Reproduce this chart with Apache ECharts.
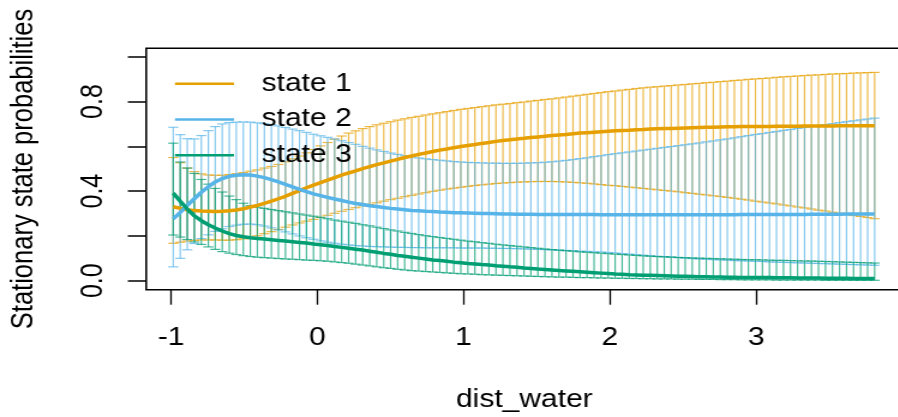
<!DOCTYPE html>
<html><head><meta charset="utf-8">
<script src="https://cdn.jsdelivr.net/npm/echarts@6/dist/echarts.min.js"></script>
<style>
html,body{margin:0;padding:0;background:#fff;overflow:hidden;width:898px;height:417px;}
#chart{width:749px;height:417px;transform:scaleX(1.2);transform-origin:0 0;}
</style></head><body><div id="chart"></div>
<script>
// covariate grid (dist_water)
const xValues = [-0.985,-0.937,-0.889,-0.841,-0.793,-0.745,-0.698,-0.650,-0.602,-0.554,
-0.506,-0.458,-0.410,-0.362,-0.314,-0.266,-0.218,-0.170,-0.122,-0.074,
-0.026,0.022,0.070,0.118,0.166,0.214,0.262,0.310,0.358,0.406,
0.454,0.501,0.549,0.597,0.645,0.693,0.741,0.789,0.837,0.885,
0.933,0.981,1.029,1.077,1.125,1.173,1.221,1.269,1.317,1.365,
1.413,1.460,1.508,1.556,1.604,1.652,1.700,1.748,1.796,1.844,
1.892,1.940,1.988,2.036,2.084,2.132,2.180,2.228,2.276,2.324,
2.372,2.419,2.467,2.515,2.563,2.611,2.659,2.707,2.755,2.803,
2.851,2.899,2.947,2.995,3.043,3.091,3.139,3.187,3.235,3.283,
3.331,3.378,3.426,3.474,3.522,3.570,3.618,3.666,3.714,3.762,3.810];

const state1Mean = [0.330,0.323,0.317,0.313,0.311,0.310,0.309,0.310,0.312,0.316,
0.321,0.329,0.336,0.345,0.355,0.366,0.377,0.390,0.402,0.415,
0.427,0.438,0.449,0.460,0.471,0.481,0.490,0.500,0.509,0.518,
0.526,0.534,0.542,0.550,0.557,0.564,0.570,0.577,0.583,0.588,
0.594,0.599,0.604,0.608,0.613,0.617,0.622,0.626,0.629,0.633,
0.636,0.639,0.642,0.645,0.648,0.651,0.653,0.656,0.659,0.661,
0.663,0.665,0.667,0.669,0.671,0.672,0.674,0.675,0.677,0.678,
0.679,0.680,0.681,0.682,0.683,0.684,0.685,0.685,0.686,0.687,
0.687,0.688,0.688,0.689,0.689,0.689,0.690,0.690,0.690,0.690,
0.691,0.691,0.691,0.691,0.691,0.692,0.692,0.692,0.692,0.692,0.692];
const state1Upper = [0.550,0.527,0.503,0.487,0.477,0.472,0.471,0.471,0.474,0.478,
0.483,0.489,0.495,0.503,0.510,0.519,0.531,0.544,0.557,0.571,
0.586,0.602,0.617,0.632,0.646,0.659,0.669,0.679,0.688,0.696,
0.703,0.710,0.717,0.723,0.729,0.734,0.740,0.745,0.750,0.755,
0.760,0.765,0.769,0.773,0.777,0.781,0.785,0.788,0.791,0.795,
0.798,0.802,0.805,0.809,0.812,0.816,0.820,0.824,0.828,0.832,
0.836,0.840,0.844,0.847,0.851,0.854,0.858,0.861,0.864,0.866,
0.869,0.871,0.874,0.876,0.879,0.881,0.884,0.886,0.889,0.891,
0.894,0.896,0.899,0.901,0.903,0.905,0.908,0.910,0.912,0.914,
0.916,0.918,0.919,0.921,0.923,0.924,0.925,0.927,0.928,0.929,0.930];
const state1Lower = [0.167,0.172,0.177,0.180,0.182,0.182,0.182,0.181,0.181,0.183,
0.187,0.193,0.201,0.210,0.219,0.229,0.239,0.249,0.258,0.266,
0.274,0.283,0.292,0.301,0.310,0.318,0.326,0.334,0.341,0.348,
0.355,0.362,0.368,0.375,0.381,0.387,0.393,0.399,0.404,0.409,
0.413,0.417,0.421,0.425,0.428,0.431,0.434,0.436,0.438,0.440,
0.441,0.442,0.443,0.443,0.443,0.442,0.441,0.439,0.437,0.435,
0.432,0.429,0.426,0.424,0.421,0.418,0.415,0.412,0.409,0.406,
0.403,0.400,0.397,0.393,0.390,0.386,0.383,0.379,0.376,0.372,
0.368,0.364,0.360,0.355,0.351,0.347,0.343,0.338,0.334,0.329,
0.325,0.320,0.315,0.311,0.306,0.301,0.296,0.291,0.287,0.282,0.277];

const state2Mean = [0.276,0.305,0.336,0.366,0.395,0.420,0.441,0.456,0.466,0.471,
0.473,0.472,0.467,0.460,0.451,0.441,0.430,0.419,0.408,0.398,
0.388,0.380,0.372,0.365,0.358,0.351,0.345,0.340,0.335,0.331,
0.327,0.323,0.320,0.317,0.314,0.312,0.310,0.309,0.307,0.306,
0.304,0.303,0.302,0.301,0.300,0.300,0.299,0.298,0.298,0.297,
0.297,0.297,0.296,0.296,0.296,0.296,0.296,0.296,0.296,0.296,
0.296,0.295,0.295,0.295,0.295,0.295,0.295,0.295,0.295,0.295,
0.295,0.295,0.295,0.295,0.295,0.295,0.295,0.295,0.295,0.295,
0.295,0.296,0.296,0.296,0.296,0.296,0.296,0.296,0.296,0.296,
0.296,0.297,0.297,0.297,0.297,0.297,0.298,0.298,0.298,0.298,0.298];
const state2Upper = [0.685,0.652,0.634,0.633,0.648,0.670,0.688,0.700,0.706,0.708,
0.709,0.708,0.705,0.701,0.697,0.691,0.684,0.677,0.670,0.662,
0.654,0.647,0.640,0.633,0.625,0.617,0.609,0.600,0.592,0.584,
0.577,0.570,0.564,0.558,0.553,0.548,0.544,0.541,0.538,0.535,
0.532,0.530,0.528,0.527,0.526,0.525,0.525,0.524,0.524,0.524,
0.525,0.526,0.527,0.529,0.531,0.534,0.537,0.541,0.545,0.549,
0.554,0.558,0.563,0.567,0.571,0.575,0.579,0.583,0.587,0.591,
0.595,0.599,0.603,0.607,0.611,0.615,0.620,0.624,0.629,0.633,
0.638,0.643,0.648,0.653,0.657,0.662,0.666,0.671,0.675,0.680,
0.684,0.689,0.693,0.697,0.701,0.706,0.710,0.714,0.718,0.722,0.726];
const state2Lower = [0.062,0.100,0.138,0.166,0.188,0.205,0.220,0.232,0.242,0.248,
0.252,0.253,0.250,0.244,0.236,0.227,0.218,0.209,0.200,0.192,
0.185,0.178,0.172,0.167,0.163,0.160,0.157,0.155,0.153,0.152,
0.151,0.150,0.149,0.149,0.148,0.148,0.147,0.147,0.147,0.147,
0.147,0.146,0.146,0.146,0.146,0.145,0.145,0.144,0.144,0.143,
0.142,0.141,0.140,0.139,0.138,0.136,0.135,0.134,0.132,0.131,
0.129,0.128,0.126,0.124,0.121,0.119,0.116,0.114,0.111,0.109,
0.107,0.105,0.103,0.101,0.099,0.097,0.096,0.094,0.093,0.092,
0.090,0.089,0.088,0.087,0.086,0.084,0.083,0.082,0.081,0.080,
0.079,0.078,0.077,0.076,0.075,0.074,0.073,0.072,0.071,0.070,0.069];

const state3Mean = [0.391,0.355,0.320,0.290,0.268,0.250,0.235,0.222,0.210,0.202,
0.196,0.192,0.189,0.186,0.183,0.180,0.177,0.174,0.171,0.168,
0.164,0.161,0.157,0.153,0.149,0.145,0.141,0.137,0.132,0.127,
0.122,0.118,0.113,0.109,0.105,0.101,0.097,0.093,0.090,0.087,
0.083,0.080,0.077,0.075,0.072,0.070,0.067,0.065,0.062,0.060,
0.057,0.055,0.052,0.050,0.048,0.046,0.044,0.042,0.040,0.038,
0.036,0.034,0.032,0.030,0.029,0.027,0.026,0.025,0.024,0.023,
0.022,0.021,0.020,0.020,0.019,0.018,0.018,0.017,0.017,0.016,
0.016,0.015,0.015,0.014,0.014,0.014,0.013,0.013,0.013,0.012,
0.012,0.012,0.012,0.011,0.011,0.011,0.011,0.010,0.010,0.010,0.010];
const state3Upper = [0.614,0.530,0.503,0.479,0.452,0.431,0.412,0.396,0.378,0.362,
0.346,0.335,0.328,0.323,0.318,0.313,0.308,0.303,0.298,0.293,
0.288,0.283,0.277,0.271,0.266,0.261,0.256,0.250,0.245,0.239,
0.233,0.227,0.222,0.216,0.211,0.206,0.201,0.197,0.193,0.189,
0.185,0.181,0.177,0.174,0.170,0.167,0.163,0.160,0.157,0.154,
0.151,0.148,0.145,0.142,0.139,0.137,0.134,0.132,0.129,0.127,
0.125,0.123,0.121,0.119,0.117,0.115,0.113,0.111,0.110,0.108,
0.107,0.106,0.104,0.103,0.102,0.101,0.100,0.099,0.098,0.097,
0.096,0.095,0.094,0.094,0.093,0.092,0.091,0.091,0.090,0.089,
0.088,0.088,0.087,0.086,0.085,0.084,0.083,0.082,0.081,0.080,0.079];
const state3Lower = [0.204,0.195,0.184,0.173,0.162,0.151,0.140,0.130,0.123,0.117,
0.112,0.108,0.105,0.103,0.101,0.099,0.097,0.096,0.094,0.092,
0.091,0.089,0.087,0.084,0.081,0.078,0.074,0.070,0.066,0.062,
0.058,0.055,0.051,0.048,0.045,0.043,0.041,0.039,0.037,0.035,
0.033,0.031,0.030,0.029,0.027,0.026,0.025,0.024,0.023,0.022,
0.021,0.020,0.019,0.018,0.017,0.016,0.016,0.015,0.014,0.014,
0.013,0.012,0.012,0.011,0.011,0.010,0.010,0.009,0.009,0.008,
0.008,0.008,0.007,0.007,0.007,0.006,0.006,0.006,0.005,0.005,
0.005,0.004,0.004,0.004,0.004,0.004,0.003,0.003,0.003,0.003,
0.003,0.003,0.003,0.002,0.002,0.002,0.002,0.002,0.002,0.002,0.002];

const stateNames = ['state 1', 'state 2', 'state 3'];
const xTickValues = [-1, 0, 1, 2, 3];
const yTickValues = [0, 0.2, 0.4, 0.6, 0.8, 1.0];
const yLabelValues = [0, 0.4, 0.8];
const xAxisTitle = 'dist_water';
const yAxisTitle = 'Stationary state probabilities';

const colors = ['#E69F00', '#56B4E9', '#009E73'];
const barColors = ['rgba(230,159,0,0.72)', 'rgba(86,180,233,0.72)', 'rgba(0,158,115,0.72)'];
const FONT = 'Liberation Sans, Arial, Helvetica, sans-serif';

const means = [state1Mean, state2Mean, state3Mean];
const lowers = [state1Lower, state2Lower, state3Lower];
const uppers = [state1Upper, state2Upper, state3Upper];

function errorBars(k) {
  const data = xValues.map((x, i) => [x, lowers[k][i], uppers[k][i]]);
  return {
    type: 'custom', name: 'ci ' + (k + 1), data: data, silent: true, z: 2,
    encode: { x: 0, y: [1, 2] },
    renderItem: function (params, api) {
      const x = api.value(0);
      const p1 = api.coord([x, api.value(1)]);
      const p2 = api.coord([x, api.value(2)]);
      const hw = 4.2;
      const st = { stroke: barColors[k], lineWidth: 1.2, fill: null };
      return { type: 'group', children: [
        { type: 'line', shape: { x1: p1[0], y1: p1[1], x2: p2[0], y2: p2[1] }, style: st },
        { type: 'line', shape: { x1: p1[0] - hw, y1: p1[1], x2: p1[0] + hw, y2: p1[1] }, style: st },
        { type: 'line', shape: { x1: p2[0] - hw, y1: p2[1], x2: p2[0] + hw, y2: p2[1] }, style: st }
      ]};
    }
  };
}
function meanLine(k) {
  return {
    type: 'line', name: stateNames[k], z: 3,
    data: xValues.map((x, i) => [x, means[k][i]]),
    showSymbol: false, symbol: 'none', smooth: false,
    lineStyle: { color: colors[k], width: 3.5 },
    itemStyle: { color: colors[k] }
  };
}

const series = [errorBars(0), errorBars(1), errorBars(2), meanLine(0), meanLine(1), meanLine(2)];

const chart = echarts.init(document.getElementById('chart'), null, { renderer: 'canvas' });
chart.setOption({
  animation: false,
  backgroundColor: '#fff',
  grid: { left: 121.8, top: 48.3, width: 630.2, height: 241.4, show: true,
          borderColor: '#000', borderWidth: 1.6, backgroundColor: 'transparent',
          containLabel: false, outerBoundsMode: 'none' },
  legend: {
    data: stateNames.map(n => ({ name: n, icon: 'rect' })),
    orient: 'vertical', left: 145.8, top: 71.2, padding: 0,
    itemWidth: 49.2, itemHeight: 2.5, itemGap: 10.8, selectedMode: false,
    textStyle: { fontFamily: FONT, fontSize: 25, color: '#000', lineHeight: 25, padding: [0, 0, 0, 18] }
  },
  xAxis: {
    type: 'value', min: -1.17, max: 4.0,
    axisLine: { show: false, onZero: false }, splitLine: { show: false },
    axisTick: { show: true, length: 15, customValues: xTickValues, lineStyle: { color: '#000', width: 1.3 } },
    axisLabel: { customValues: xTickValues, margin: 36, fontFamily: FONT, fontSize: 25, color: '#000',
                 formatter: v => String(v) },
    name: xAxisTitle, nameLocation: 'middle', nameGap: 97.6,
    nameTextStyle: { fontFamily: FONT, fontSize: 25, color: '#000' }
  },
  yAxis: {
    type: 'value', min: -0.04, max: 1.0375,
    axisLine: { show: false, onZero: false }, splitLine: { show: false },
    axisTick: { show: true, length: 15.25, customValues: yTickValues, lineStyle: { color: '#000', width: 1.5 } },
    axisLabel: { customValues: yLabelValues, rotate: 90, margin: 31, fontFamily: FONT, fontSize: 25, color: '#000',
                 formatter: v => Number(v).toFixed(1) },
    name: yAxisTitle, nameLocation: 'middle', nameRotate: 90, nameGap: 88.5,
    nameTextStyle: { fontFamily: FONT, fontSize: 25.5, color: '#000' }
  },
  series: series
});
</script></body></html>
